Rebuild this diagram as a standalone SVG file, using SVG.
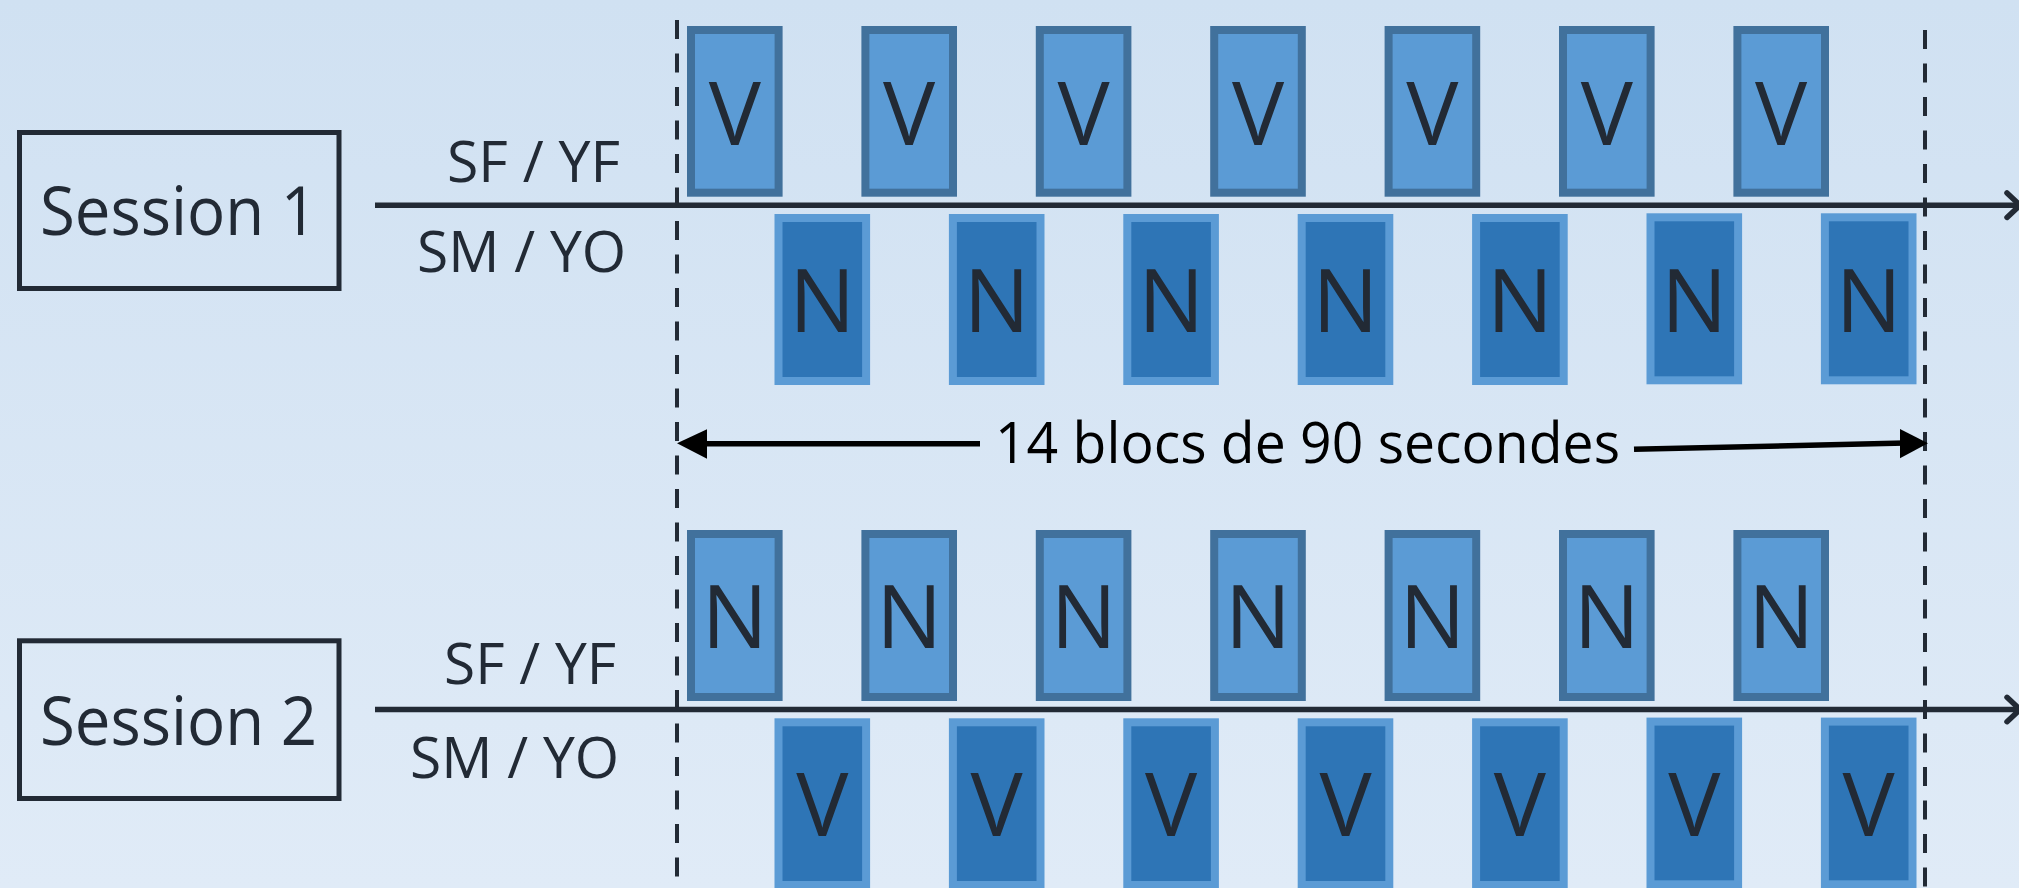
<svg xmlns="http://www.w3.org/2000/svg" width="2019" height="888" viewBox="0 0 2019 888">
<defs>
<linearGradient id="bg" x1="0" y1="0" x2="0" y2="1">
<stop offset="0" stop-color="#d0e1f2"/>
<stop offset="1" stop-color="#e0ebf7"/>
</linearGradient>
<style>
.t{font-family:"Open Sans","Liberation Sans",sans-serif;fill:#222a35}
.sess{font-size:67px}
.grp{font-size:57px}
.let{font-size:87.5px;text-anchor:middle}
.box{fill:none;stroke:#222a35;stroke-width:5}
.a rect{fill:#5b9bd5;stroke:#41719c;stroke-width:8}
.b rect{fill:#2e75b6;stroke:#5b9bd5;stroke-width:8}
.tl{stroke:#222a35;stroke-width:5.5;fill:none}
.dash{stroke:#222a35;stroke-width:4;stroke-dasharray:19 14.5;fill:none}
.dim{stroke:#000;stroke-width:5.5;fill:none}
</style>
</defs>
<rect x="0" y="0" width="2019" height="888" fill="url(#bg)"/>

<g id="connectors">
<line class="dash" x1="677" y1="20" x2="677" y2="888"/>
<line class="dash" x1="1925" y1="30" x2="1925" y2="888"/>
<line class="tl" x1="375" y1="205.2" x2="2018" y2="205.2"/>
<polyline class="tl" stroke-linecap="round" stroke-linejoin="round" points="2007,193 2020,205.2 2007,217.4"/>
<line class="tl" x1="375" y1="709.5" x2="2018" y2="709.5"/>
<polyline class="tl" stroke-linecap="round" stroke-linejoin="round" points="2007,697.3 2020,709.5 2007,721.7"/>
<line class="dim" x1="700" y1="443.7" x2="980" y2="443.7"/>
<polygon points="677,443.3 707,429.3 707,458.7" fill="#000"/>
<line class="dim" x1="1634" y1="449.3" x2="1905" y2="443"/>
<polygon points="1928,443.3 1900,429 1900,458.3" fill="#000"/>
</g>

<g id="session1">
<rect class="box" x="19.5" y="132.5" width="319.5" height="156"/>
<text class="t sess" x="40" y="235" textLength="277" lengthAdjust="spacingAndGlyphs">Session 1</text>
</g>
<g id="session2">
<rect class="box" x="19.5" y="640.8" width="319.5" height="157.7"/>
<text class="t sess" x="40" y="745" textLength="277" lengthAdjust="spacingAndGlyphs">Session 2</text>
</g>

<g id="labels1">
<text class="t grp" x="447" y="181.7" textLength="173" lengthAdjust="spacingAndGlyphs">SF / YF</text>
<text class="t grp" x="417" y="271.7" textLength="209" lengthAdjust="spacingAndGlyphs">SM / YO</text>
</g>
<g id="labels2">
<text class="t grp" x="444" y="684" textLength="172" lengthAdjust="spacingAndGlyphs">SF / YF</text>
<text class="t grp" x="410" y="778.3" textLength="209" lengthAdjust="spacingAndGlyphs">SM / YO</text>
</g>

<g id="duration">
<text x="995" y="463.3" font-family="'Open Sans','Liberation Sans',sans-serif" font-size="56" fill="#000" textLength="625" lengthAdjust="spacingAndGlyphs">14 blocs de 90 secondes</text>
</g>

<g id="s1-top">
<g id="s1v1" class="a"><rect x="691" y="30" width="87.6" height="162.7"/><text class="t let" x="734.8" y="145">V</text></g>
<g id="s1v2" class="a"><rect x="865.4" y="30" width="87.6" height="162.7"/><text class="t let" x="909.2" y="145">V</text></g>
<g id="s1v3" class="a"><rect x="1039.8" y="30" width="87.6" height="162.7"/><text class="t let" x="1083.6" y="145">V</text></g>
<g id="s1v4" class="a"><rect x="1214.2" y="30" width="87.6" height="162.7"/><text class="t let" x="1258" y="145">V</text></g>
<g id="s1v5" class="a"><rect x="1388.6" y="30" width="87.6" height="162.7"/><text class="t let" x="1432.4" y="145">V</text></g>
<g id="s1v6" class="a"><rect x="1563" y="30" width="87.6" height="162.7"/><text class="t let" x="1606.8" y="145">V</text></g>
<g id="s1v7" class="a"><rect x="1737.4" y="30" width="87.6" height="162.7"/><text class="t let" x="1781.2" y="145">V</text></g>
</g>
<g id="s1-bottom">
<g id="s1n1" class="b"><rect x="778.5" y="218" width="87.6" height="163"/><text class="t let" x="822.3" y="332.3">N</text></g>
<g id="s1n2" class="b"><rect x="952.9" y="218" width="87.6" height="163"/><text class="t let" x="996.7" y="332.3">N</text></g>
<g id="s1n3" class="b"><rect x="1127.3" y="218" width="87.6" height="163"/><text class="t let" x="1171.1" y="332.3">N</text></g>
<g id="s1n4" class="b"><rect x="1301.7" y="218" width="87.6" height="163"/><text class="t let" x="1345.5" y="332.3">N</text></g>
<g id="s1n5" class="b"><rect x="1476.1" y="218" width="87.6" height="163"/><text class="t let" x="1519.9" y="332.3">N</text></g>
<g id="s1n6" class="b"><rect x="1650.5" y="217.3" width="87.6" height="163"/><text class="t let" x="1694.3" y="332.3">N</text></g>
<g id="s1n7" class="b"><rect x="1824.9" y="217.3" width="87.6" height="163"/><text class="t let" x="1868.7" y="332.3">N</text></g>
</g>

<g id="s2-top">
<g id="s2n1" class="a"><rect x="691" y="534" width="87.6" height="163"/><text class="t let" x="734.8" y="648.3">N</text></g>
<g id="s2n2" class="a"><rect x="865.4" y="534" width="87.6" height="163"/><text class="t let" x="909.2" y="648.3">N</text></g>
<g id="s2n3" class="a"><rect x="1039.8" y="534" width="87.6" height="163"/><text class="t let" x="1083.6" y="648.3">N</text></g>
<g id="s2n4" class="a"><rect x="1214.2" y="534" width="87.6" height="163"/><text class="t let" x="1258" y="648.3">N</text></g>
<g id="s2n5" class="a"><rect x="1388.6" y="534" width="87.6" height="163"/><text class="t let" x="1432.4" y="648.3">N</text></g>
<g id="s2n6" class="a"><rect x="1563" y="534" width="87.6" height="163"/><text class="t let" x="1606.8" y="648.3">N</text></g>
<g id="s2n7" class="a"><rect x="1737.4" y="534" width="87.6" height="163"/><text class="t let" x="1781.2" y="648.3">N</text></g>
</g>
<g id="s2-bottom">
<g id="s2v1" class="b"><rect x="778.5" y="722.3" width="87.6" height="162.7"/><text class="t let" x="822.3" y="836">V</text></g>
<g id="s2v2" class="b"><rect x="952.9" y="722.3" width="87.6" height="162.7"/><text class="t let" x="996.7" y="836">V</text></g>
<g id="s2v3" class="b"><rect x="1127.3" y="722.3" width="87.6" height="162.7"/><text class="t let" x="1171.1" y="836">V</text></g>
<g id="s2v4" class="b"><rect x="1301.7" y="722.3" width="87.6" height="162.7"/><text class="t let" x="1345.5" y="836">V</text></g>
<g id="s2v5" class="b"><rect x="1476.1" y="722.3" width="87.6" height="162.7"/><text class="t let" x="1519.9" y="836">V</text></g>
<g id="s2v6" class="b"><rect x="1650.5" y="721.6" width="87.6" height="162.7"/><text class="t let" x="1694.3" y="836">V</text></g>
<g id="s2v7" class="b"><rect x="1824.9" y="721.6" width="87.6" height="162.7"/><text class="t let" x="1868.7" y="836">V</text></g>
</g>
</svg>
